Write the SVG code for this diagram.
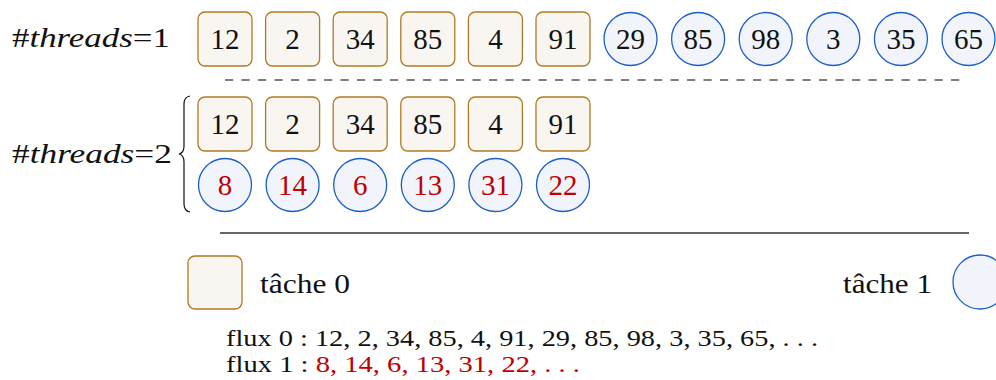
<svg xmlns="http://www.w3.org/2000/svg" width="996" height="380" viewBox="0 0 996 380">
<style>
text{font-family:"Liberation Serif","DejaVu Serif",serif;fill:#111}
.num{font-size:29px;text-anchor:middle}
.red{fill:#c00000}
.sq{fill:#f9f6f1;stroke:#b07a22;stroke-width:1.3}
.ci{fill:#f1f5fb;stroke:#1c5fc9;stroke-width:1.3}
.lbl{font-size:27px}
.flux{font-size:24px}
.it{font-style:italic}
</style>
<rect width="996" height="380" fill="#fff"/>
<g id="label1"><text class="lbl" x="12" y="47" textLength="158" lengthAdjust="spacingAndGlyphs">#<tspan class="it">threads</tspan>=1</text></g>
<g id="row1">
<g id="r1s1"><rect class="sq" x="198" y="12" width="54" height="54" rx="7"/><text class="num" x="225" y="49">12</text></g>
<g id="r1s2"><rect class="sq" x="265.6" y="12" width="54" height="54" rx="7"/><text class="num" x="292.6" y="49">2</text></g>
<g id="r1s3"><rect class="sq" x="333.2" y="12" width="54" height="54" rx="7"/><text class="num" x="360.2" y="49">34</text></g>
<g id="r1s4"><rect class="sq" x="400.8" y="12" width="54" height="54" rx="7"/><text class="num" x="427.8" y="49">85</text></g>
<g id="r1s5"><rect class="sq" x="468.4" y="12" width="54" height="54" rx="7"/><text class="num" x="495.4" y="49">4</text></g>
<g id="r1s6"><rect class="sq" x="536" y="12" width="54" height="54" rx="7"/><text class="num" x="563" y="49">91</text></g>
<g id="r1c1"><circle class="ci" cx="630.5" cy="39" r="26.5"/><text class="num" x="630.5" y="49">29</text></g>
<g id="r1c2"><circle class="ci" cx="698.1" cy="39" r="26.5"/><text class="num" x="698.1" y="49">85</text></g>
<g id="r1c3"><circle class="ci" cx="765.7" cy="39" r="26.5"/><text class="num" x="765.7" y="49">98</text></g>
<g id="r1c4"><circle class="ci" cx="833.3" cy="39" r="26.5"/><text class="num" x="833.3" y="49">3</text></g>
<g id="r1c5"><circle class="ci" cx="900.9" cy="39" r="26.5"/><text class="num" x="900.9" y="49">35</text></g>
<g id="r1c6"><circle class="ci" cx="968.5" cy="39" r="26.5"/><text class="num" x="968.5" y="49">65</text></g>
</g>
<g id="separators">
<line x1="225" y1="80" x2="967" y2="80" stroke="#555" stroke-width="1.3" stroke-dasharray="8.2 8.3"/>
<line x1="220" y1="233" x2="969" y2="233" stroke="#333" stroke-width="1.3"/>
</g>
<g id="label2"><text class="lbl" x="12" y="163" textLength="160" lengthAdjust="spacingAndGlyphs">#<tspan class="it">threads</tspan>=2</text>
<path d="M190,96 Q184,97 184,104 L184,146 Q184,153 179,154 Q184,155 184,162 L184,204 Q184,211 190,212" fill="none" stroke="#111" stroke-width="1.2"/></g>
<g id="row2">
<g id="r2s1"><rect class="sq" x="198" y="97" width="54" height="54" rx="7"/><text class="num" x="225" y="134">12</text></g>
<g id="r2s2"><rect class="sq" x="265.6" y="97" width="54" height="54" rx="7"/><text class="num" x="292.6" y="134">2</text></g>
<g id="r2s3"><rect class="sq" x="333.2" y="97" width="54" height="54" rx="7"/><text class="num" x="360.2" y="134">34</text></g>
<g id="r2s4"><rect class="sq" x="400.8" y="97" width="54" height="54" rx="7"/><text class="num" x="427.8" y="134">85</text></g>
<g id="r2s5"><rect class="sq" x="468.4" y="97" width="54" height="54" rx="7"/><text class="num" x="495.4" y="134">4</text></g>
<g id="r2s6"><rect class="sq" x="536" y="97" width="54" height="54" rx="7"/><text class="num" x="563" y="134">91</text></g>
<g id="r2c1"><circle class="ci" cx="225" cy="185" r="26.5"/><text class="num red" x="225" y="195">8</text></g>
<g id="r2c2"><circle class="ci" cx="292.6" cy="185" r="26.5"/><text class="num red" x="292.6" y="195">14</text></g>
<g id="r2c3"><circle class="ci" cx="360.2" cy="185" r="26.5"/><text class="num red" x="360.2" y="195">6</text></g>
<g id="r2c4"><circle class="ci" cx="427.8" cy="185" r="26.5"/><text class="num red" x="427.8" y="195">13</text></g>
<g id="r2c5"><circle class="ci" cx="495.4" cy="185" r="26.5"/><text class="num red" x="495.4" y="195">31</text></g>
<g id="r2c6"><circle class="ci" cx="563" cy="185" r="26.5"/><text class="num red" x="563" y="195">22</text></g>
</g>
<g id="legend0"><rect class="sq" x="188" y="256" width="54" height="53" rx="7"/><text class="lbl" x="260" y="293" textLength="90" lengthAdjust="spacingAndGlyphs">tâche 0</text></g>
<g id="legend1"><text class="lbl" x="843" y="293" textLength="89" lengthAdjust="spacingAndGlyphs">tâche 1</text><circle class="ci" cx="980" cy="282" r="27"/></g>
<g id="flux">
<text class="flux" x="226" y="346" textLength="592" lengthAdjust="spacingAndGlyphs">flux 0 : 12, 2, 34, 85, 4, 91, 29, 85, 98, 3, 35, 65, . . .</text>
<text class="flux" x="226" y="372" textLength="354" lengthAdjust="spacingAndGlyphs">flux 1 : <tspan class="red">8, 14, 6, 13, 31, 22, . . .</tspan></text>
</g>
</svg>
